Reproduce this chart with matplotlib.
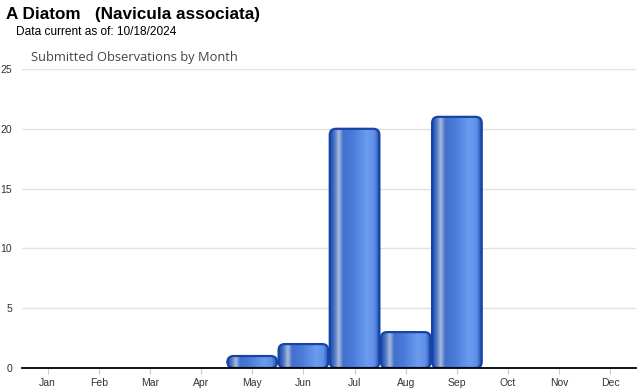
import numpy as np
import matplotlib
matplotlib.use('Agg')
import matplotlib.pyplot as plt
from matplotlib.patches import FancyBboxPatch
from matplotlib.colors import LinearSegmentedColormap

months = ['Jan', 'Feb', 'Mar', 'Apr', 'May', 'Jun', 'Jul', 'Aug', 'Sep', 'Oct', 'Nov', 'Dec']
counts = [0, 0, 0, 0, 1, 2, 20, 3, 21, 0, 0, 0]
yticks = [0, 5, 10, 15, 20, 25]

fig = plt.figure(figsize=(6.4, 3.9), dpi=100)
ax = fig.add_axes([22/640, 22/390, 614/640, 299/390])

ax.set_xlim(-0.5, 11.5)
ax.set_ylim(0, 25)

# horizontal "cylinder" shading of the bars
grad = LinearSegmentedColormap.from_list('bar', [
  (0.00, '#1d4fb0'), (0.08, '#4a74c4'), (0.17, '#a9bbdc'), (0.26, '#4270cc'),
  (0.45, '#4a7ad8'), (0.75, '#6c9cf0'), (0.90, '#5f8ee6'), (1.00, '#1d4fb0')])
img = np.linspace(0, 1, 64).reshape(1, -1)

px_x = 614/12
px_y = 299/25
w = 0.97
for i, v in enumerate(counts):
  if v <= 0:
    continue
  x0 = i - w/2
  patch = FancyBboxPatch((x0, 0), w, v, boxstyle='round,pad=0,rounding_size=0.12',
                         mutation_aspect=px_x/px_y, facecolor='none',
                         edgecolor='#1544a6', linewidth=1.6, zorder=3)
  ax.add_patch(patch)
  im = ax.imshow(img, cmap=grad, aspect='auto', extent=(x0, x0 + w, 0, v),
                 interpolation='bilinear', zorder=2)
  im.set_clip_path(patch)

ax.set_xlim(-0.5, 11.5)
ax.set_ylim(0, 25)

ax.set_yticks(yticks)
ax.set_yticklabels([str(t) for t in yticks])
ax.set_xticks(range(12))
ax.set_xticklabels(months)
ax.grid(axis='y', color='#e2e2e2', linewidth=1)
ax.set_axisbelow(True)
for s in ['top', 'right', 'left']:
  ax.spines[s].set_visible(False)
ax.spines['bottom'].set_color('black')
ax.spines['bottom'].set_linewidth(1.3)
ax.spines['bottom'].set_zorder(5)
ax.tick_params(axis='y', length=0, labelsize=7.5, labelcolor='#333333', pad=7,
               labelfontfamily='Liberation Sans')
ax.tick_params(axis='x', length=4, color='#cccccc', labelsize=7.5, labelcolor='#333333',
               pad=3, labelfontfamily='Liberation Sans')

fig.text(6/640, 1 - 15/390, 'A Diatom   (Navicula associata)', fontsize=12.3,
         fontweight='bold', family='Liberation Sans', va='center', ha='left')
fig.text(16/640, 1 - 32/390, 'Data current as of: 10/18/2024', fontsize=8.6,
         family='Liberation Sans', va='center', ha='left')
fig.text(31/640, 1 - 58/390, 'Submitted Observations by Month', fontsize=9.3,
         family='Open Sans', color='#444444', va='center', ha='left')

fig.savefig('out.png', dpi=100)
